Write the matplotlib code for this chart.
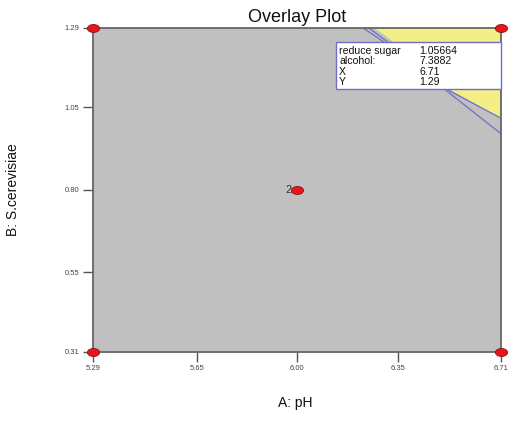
import numpy as np
import matplotlib
matplotlib.use("Agg")
import matplotlib.pyplot as plt
from matplotlib.path import Path
from matplotlib.transforms import Affine2D

plt.rcParams["font.family"] = ["Liberation Sans", "DejaVu Sans"]

# axis ranges / ticks
x_ticks = [5.29, 5.65, 6.00, 6.35, 6.71]
y_ticks = [0.31, 0.55, 0.80, 1.05, 1.29]
x_tick_labels = ["5.29", "5.65", "6.00", "6.35", "6.71"]
y_tick_labels = ["0.31", "0.55", "0.80", "1.05", "1.29"]

# design points
design_x = [5.29, 6.71, 5.29, 6.71, 6.00]
design_y = [0.31, 0.31, 1.29, 1.29, 0.80]
center_label = "2"

# constraint contour lines
line1_x = [6.23, 6.40, 6.52, 6.71]
line1_y = [1.29, 1.19, 1.10, 0.97]
line2_x = [6.25, 6.42, 6.53, 6.71]
line2_y = [1.29, 1.18, 1.10, 1.017]
# feasible (yellow) region boundary
feas_x = [6.27, 6.44, 6.54, 6.71]
feas_y = [1.29, 1.18, 1.10, 1.017]

# flag box contents
flag_names = ["reduce sugar", "alcohol:", "X", "Y"]
flag_values = ["1.05664", "7.3882", "6.71", "1.29"]

gray = "#C0C0C0"
yellow = "#F4EE86"
blue = "#6F6FC8"

fig = plt.figure(figsize=(5.08, 4.21), dpi=100)
ax = fig.add_axes([0.184, 0.165, 0.802, 0.7685])
ax.set_xlim(x_ticks[0], x_ticks[-1])
ax.set_ylim(y_ticks[0], y_ticks[-1])
ax.set_facecolor(gray)

# feasible region: boundary + top-right corner
poly_x = feas_x + [x_ticks[-1]]
poly_y = feas_y + [y_ticks[-1]]
ax.fill(poly_x, poly_y, color=yellow, lw=0, zorder=1)
ax.plot(line1_x, line1_y, color=blue, lw=0.9, zorder=2)
ax.plot(line2_x, line2_y, color=blue, lw=0.9, zorder=2)

# elliptical marker
ell = Path.unit_circle().transformed(Affine2D().scale(1.0, 0.65))
ax.scatter(design_x, design_y, marker=ell, s=78, color="#E8151B",
           edgecolors="#8B1010", linewidths=0.6, zorder=5, clip_on=False)
ax.text(design_x[-1] - 0.018, design_y[-1], center_label, ha="right", va="center",
        fontsize=8, color="#333333", zorder=6)

ax.set_xticks(x_ticks)
ax.set_xticklabels(x_tick_labels)
ax.set_yticks(y_ticks)
ax.set_yticklabels(y_tick_labels)
ax.tick_params(axis="both", direction="out", length=7, width=1, color="#555555",
               labelsize=5.5, labelcolor="#444444", pad=3)
for s in ax.spines.values():
    s.set_color("#666666")
    s.set_linewidth(1.3)

ax.set_title("Overlay Plot", fontsize=13, pad=4, color="#111111")
fig.text(0.581, 0.043, "A: pH", ha="center", va="center", fontsize=10, color="#111111")
fig.text(0.026, 0.549, "B: S.cerevisiae", ha="center", va="center", rotation=90,
         fontsize=10, color="#111111")

# flag box
bx0, bx1 = 336 / 508, 501 / 508
by1, by0 = 1 - 42 / 421, 1 - 89 / 421
fig.patches.append(plt.Rectangle((bx0, by0), bx1 - bx0, by1 - by0, transform=fig.transFigure,
                                 facecolor="white", edgecolor=blue, lw=1.0, zorder=10))
row_y = [51, 61.3, 71.6, 82]
for name, val, ry in zip(flag_names, flag_values, row_y):
    fig.text(339 / 508, 1 - ry / 421, name, ha="left", va="center", fontsize=7.6,
             color="#111111", zorder=11)
    fig.text(419 / 508, 1 - ry / 421, val, ha="left", va="center", fontsize=7.6,
             color="#111111", zorder=11)

fig.savefig("out.png", dpi=100)
